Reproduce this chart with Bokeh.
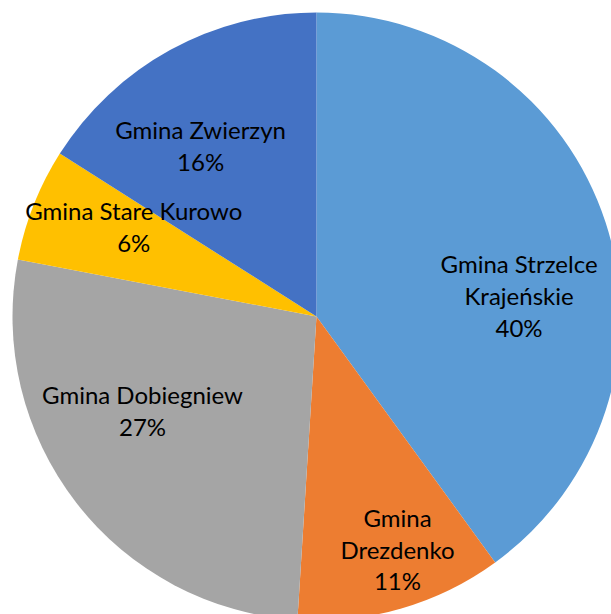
import math
from bokeh.plotting import figure
from bokeh.models import ColumnDataSource, Range1d
from bokeh.core.properties import value
from bokeh.embed import file_html
from bokeh.resources import INLINE

# Data
gminas = ["Gmina Strzelce Krajeńskie", "Gmina Drezdenko", "Gmina Dobiegniew",
          "Gmina Stare Kurowo", "Gmina Zwierzyn"]
label_text = ["Gmina Strzelce\nKrajeńskie", "Gmina\nDrezdenko", "Gmina Dobiegniew",
              "Gmina Stare Kurowo", "Gmina Zwierzyn"]
shares = [40, 11, 27, 6, 16]
colors = ["#5B9BD5", "#ED7D31", "#A5A5A5", "#FFC000", "#4472C4"]

# Label placement (fraction of radius, clockwise nudge in degrees from mid-angle)
label_r = [0.67, 0.81, 0.65, 0.67, 0.68]
label_turn = [12.0, -3.0, 9.5, 4.6, -5.3]

W, H = 611, 614
cx, cy, R = 316, H - 316, 304

total = sum(shares)
starts, ends, lx, ly, texts = [], [], [], [], []
cum = 0.0
for i, s in enumerate(shares):
    a0 = math.pi / 2 - 2 * math.pi * cum / total
    cum += s
    a1 = math.pi / 2 - 2 * math.pi * cum / total
    starts.append(a0)
    ends.append(a1)
    mid = (a0 + a1) / 2 - math.radians(label_turn[i])
    lx.append(cx + label_r[i] * R * math.cos(mid))
    ly.append(cy + label_r[i] * R * math.sin(mid))
    texts.append(f"{label_text[i]}\n{s}%")

src = ColumnDataSource(dict(start=starts, end=ends, color=colors, name=gminas))
lab = ColumnDataSource(dict(x=lx, y=ly, text=texts))

p = figure(width=W, height=H, x_range=Range1d(0, W), y_range=Range1d(0, H),
           output_backend="svg", toolbar_location=None, min_border=0)
p.axis.visible = False
p.grid.visible = False
p.outline_line_color = None
p.background_fill_color = "white"

p.wedge(x=cx, y=cy, radius=R, start_angle="start", end_angle="end",
        direction="clock", fill_color="color", line_color=None, source=src)

p.text(x="x", y="y", text="text", source=lab, text_align="center",
       text_baseline="middle", text_font=value("Lato"), text_font_size="24px",
       text_color="#000000", text_line_height=1.1)

open("out.html", "w").write(file_html(p, INLINE))
